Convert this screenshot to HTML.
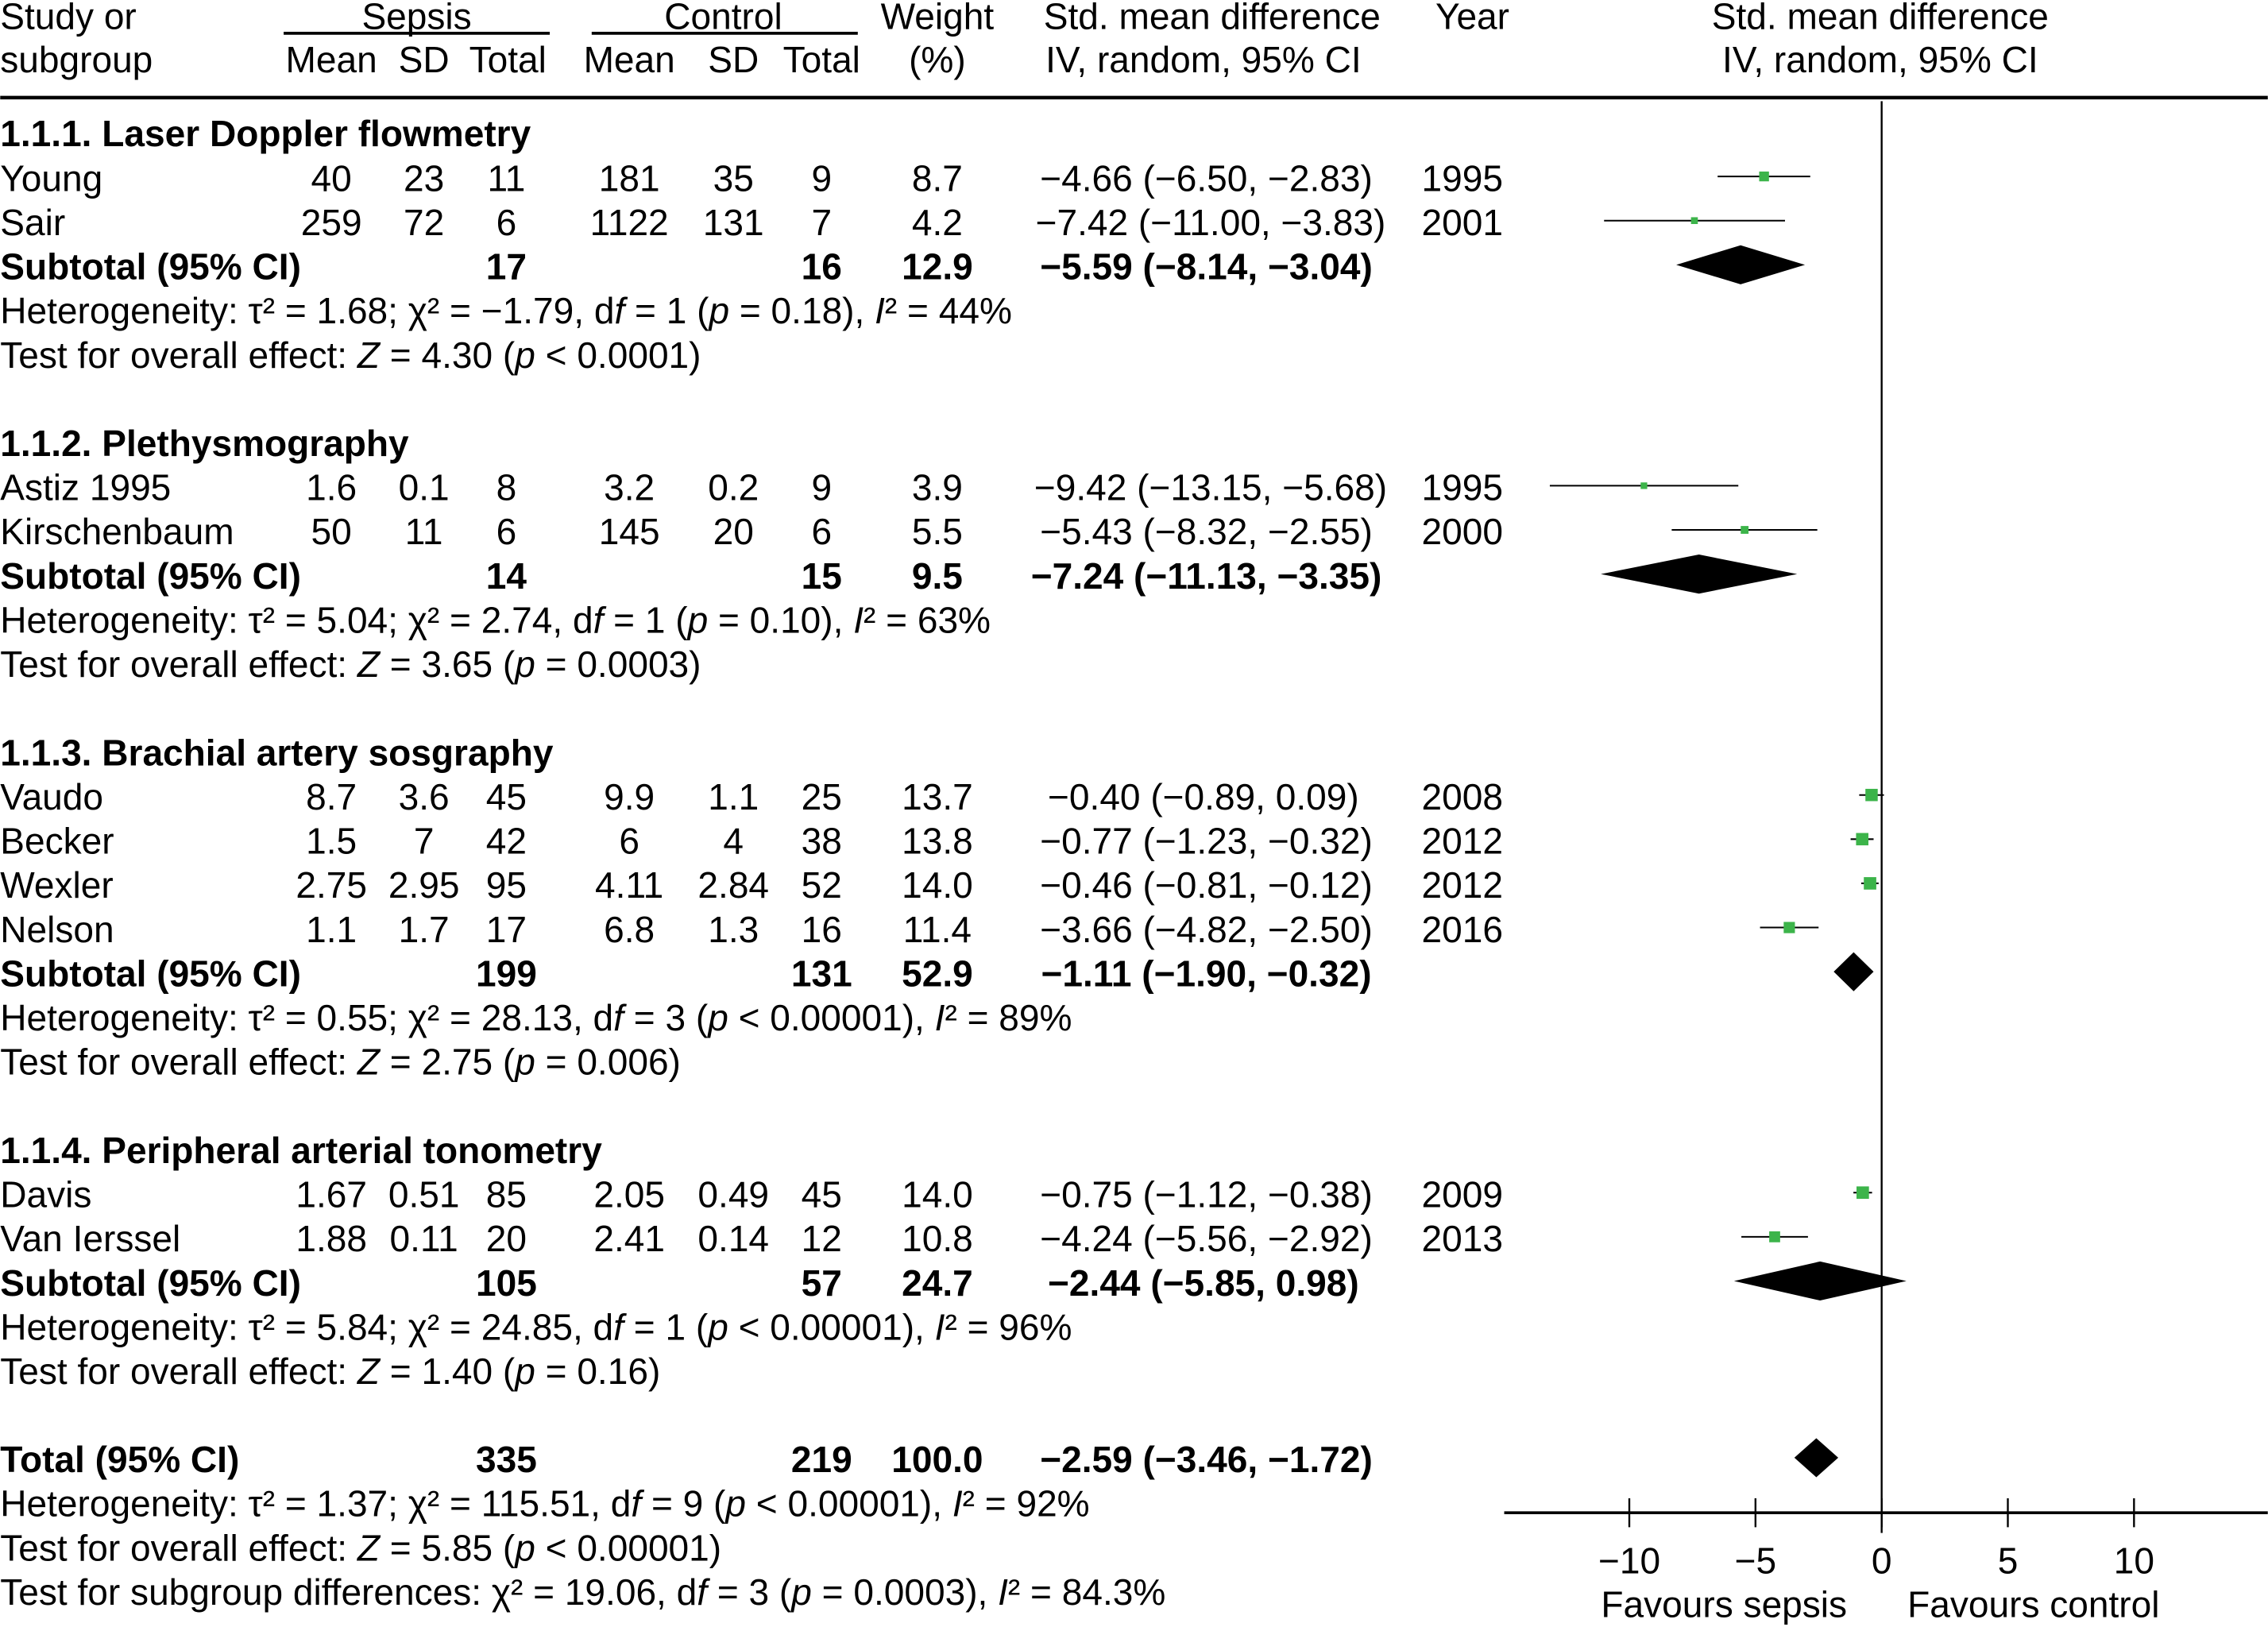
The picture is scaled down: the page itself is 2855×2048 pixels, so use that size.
<!DOCTYPE html>
<html><head><meta charset="utf-8"><style>
html,body{margin:0;padding:0;background:#fff}
svg{display:block}
text{font-family:"Liberation Sans",sans-serif;font-size:25.3px;fill:#000}
.b{font-weight:bold}
.m{text-anchor:middle}
</style></head><body>
<svg id="plot" width="2855" height="2048" viewBox="0 0 1568 1125" xmlns="http://www.w3.org/2000/svg">
<g>
<text x="0" y="20">Study or</text><text x="0" y="50">subgroup</text>
<text class="m" x="288" y="20">Sepsis</text><line x1="196" y1="23" x2="380" y2="23" stroke="#000" stroke-width="2"/>
<text class="m" x="500" y="20">Control</text><line x1="409" y1="23" x2="593" y2="23" stroke="#000" stroke-width="2"/>
<text class="m" x="229" y="50">Mean</text><text class="m" x="293" y="50">SD</text><text class="m" x="351" y="50">Total</text>
<text class="m" x="435" y="50">Mean</text><text class="m" x="507" y="50">SD</text><text class="m" x="568" y="50">Total</text>
<text class="m" x="648" y="20">Weight</text><text class="m" x="648" y="50">(%)</text>
<text class="m" x="838" y="20">Std. mean difference</text><text class="m" x="832" y="50">IV, random, 95% CI</text>
<text class="m" x="1018" y="20">Year</text>
<text class="m" x="1300" y="20">Std. mean difference</text><text class="m" x="1300" y="50">IV, random, 95% CI</text>
<line x1="0" y1="67.5" x2="1568" y2="67.5" stroke="#000" stroke-width="2.5"/>
</g>
<g>
<text class="b" x="0" y="101">1.1.1. Laser Doppler flowmetry</text>
<text x="0" y="132">Young</text><text class="m" x="229" y="132">40</text><text class="m" x="293" y="132">23</text><text class="m" x="350" y="132">11</text><text class="m" x="435" y="132">181</text><text class="m" x="507" y="132">35</text><text class="m" x="568" y="132">9</text><text class="m" x="648" y="132">8.7</text><text class="m" x="834" y="132">−4.66 (−6.50, −2.83)</text><text class="m" x="1011" y="132">1995</text>
<text x="0" y="162.6">Sair</text><text class="m" x="229" y="162.6">259</text><text class="m" x="293" y="162.6">72</text><text class="m" x="350" y="162.6">6</text><text class="m" x="435" y="162.6">1122</text><text class="m" x="507" y="162.6">131</text><text class="m" x="568" y="162.6">7</text><text class="m" x="648" y="162.6">4.2</text><text class="m" x="837" y="162.6">−7.42 (−11.00, −3.83)</text><text class="m" x="1011" y="162.6">2001</text>
<text class="b" x="0" y="193">Subtotal (95% CI)</text><text class="b m" x="350" y="193">17</text><text class="b m" x="568" y="193">16</text><text class="b m" x="648" y="193">12.9</text><text class="b m" x="834" y="193">−5.59 (−8.14, −3.04)</text>
<text x="0" y="223.7">Heterogeneity: τ² = 1.68; χ² = −1.79, d<tspan font-style="italic">f</tspan> = 1 (<tspan font-style="italic">p</tspan> = 0.18), <tspan font-style="italic">I</tspan>² = 44%</text>
<text x="0" y="254.2">Test for overall effect: <tspan font-style="italic">Z</tspan> = 4.30 (<tspan font-style="italic">p</tspan> &lt; 0.0001)</text>

<text class="b" x="0" y="315.3">1.1.2. Plethysmography</text>
<text x="0" y="345.9">Astiz 1995</text><text class="m" x="229" y="345.9">1.6</text><text class="m" x="293" y="345.9">0.1</text><text class="m" x="350" y="345.9">8</text><text class="m" x="435" y="345.9">3.2</text><text class="m" x="507" y="345.9">0.2</text><text class="m" x="568" y="345.9">9</text><text class="m" x="648" y="345.9">3.9</text><text class="m" x="837" y="345.9">−9.42 (−13.15, −5.68)</text><text class="m" x="1011" y="345.9">1995</text>
<text x="0" y="376.4">Kirschenbaum</text><text class="m" x="229" y="376.4">50</text><text class="m" x="293" y="376.4">11</text><text class="m" x="350" y="376.4">6</text><text class="m" x="435" y="376.4">145</text><text class="m" x="507" y="376.4">20</text><text class="m" x="568" y="376.4">6</text><text class="m" x="648" y="376.4">5.5</text><text class="m" x="834" y="376.4">−5.43 (−8.32, −2.55)</text><text class="m" x="1011" y="376.4">2000</text>
<text class="b" x="0" y="407">Subtotal (95% CI)</text><text class="b m" x="350" y="407">14</text><text class="b m" x="568" y="407">15</text><text class="b m" x="648" y="407">9.5</text><text class="b m" x="834" y="407">−7.24 (−11.13, −3.35)</text>
<text x="0" y="437.5">Heterogeneity: τ² = 5.04; χ² = 2.74, d<tspan font-style="italic">f</tspan> = 1 (<tspan font-style="italic">p</tspan> = 0.10), <tspan font-style="italic">I</tspan>² = 63%</text>
<text x="0" y="468">Test for overall effect: <tspan font-style="italic">Z</tspan> = 3.65 (<tspan font-style="italic">p</tspan> = 0.0003)</text>

<text class="b" x="0" y="529.2">1.1.3. Brachial artery sosgraphy</text>
<text x="0" y="559.7">Vaudo</text><text class="m" x="229" y="559.7">8.7</text><text class="m" x="293" y="559.7">3.6</text><text class="m" x="350" y="559.7">45</text><text class="m" x="435" y="559.7">9.9</text><text class="m" x="507" y="559.7">1.1</text><text class="m" x="568" y="559.7">25</text><text class="m" x="648" y="559.7">13.7</text><text class="m" x="832" y="559.7">−0.40 (−0.89, 0.09)</text><text class="m" x="1011" y="559.7">2008</text>
<text x="0" y="590.3">Becker</text><text class="m" x="229" y="590.3">1.5</text><text class="m" x="293" y="590.3">7</text><text class="m" x="350" y="590.3">42</text><text class="m" x="435" y="590.3">6</text><text class="m" x="507" y="590.3">4</text><text class="m" x="568" y="590.3">38</text><text class="m" x="648" y="590.3">13.8</text><text class="m" x="834" y="590.3">−0.77 (−1.23, −0.32)</text><text class="m" x="1011" y="590.3">2012</text>
<text x="0" y="620.8">Wexler</text><text class="m" x="229" y="620.8">2.75</text><text class="m" x="293" y="620.8">2.95</text><text class="m" x="350" y="620.8">95</text><text class="m" x="435" y="620.8">4.11</text><text class="m" x="507" y="620.8">2.84</text><text class="m" x="568" y="620.8">52</text><text class="m" x="648" y="620.8">14.0</text><text class="m" x="834" y="620.8">−0.46 (−0.81, −0.12)</text><text class="m" x="1011" y="620.8">2012</text>
<text x="0" y="651.4">Nelson</text><text class="m" x="229" y="651.4">1.1</text><text class="m" x="293" y="651.4">1.7</text><text class="m" x="350" y="651.4">17</text><text class="m" x="435" y="651.4">6.8</text><text class="m" x="507" y="651.4">1.3</text><text class="m" x="568" y="651.4">16</text><text class="m" x="648" y="651.4">11.4</text><text class="m" x="834" y="651.4">−3.66 (−4.82, −2.50)</text><text class="m" x="1011" y="651.4">2016</text>
<text class="b" x="0" y="681.9">Subtotal (95% CI)</text><text class="b m" x="350" y="681.9">199</text><text class="b m" x="568" y="681.9">131</text><text class="b m" x="648" y="681.9">52.9</text><text class="b m" x="834" y="681.9">−1.11 (−1.90, −0.32)</text>
<text x="0" y="712.5">Heterogeneity: τ² = 0.55; χ² = 28.13, d<tspan font-style="italic">f</tspan> = 3 (<tspan font-style="italic">p</tspan> &lt; 0.00001), <tspan font-style="italic">I</tspan>² = 89%</text>
<text x="0" y="743">Test for overall effect: <tspan font-style="italic">Z</tspan> = 2.75 (<tspan font-style="italic">p</tspan> = 0.006)</text>

<text class="b" x="0" y="804.1">1.1.4. Peripheral arterial tonometry</text>
<text x="0" y="834.7">Davis</text><text class="m" x="229" y="834.7">1.67</text><text class="m" x="293" y="834.7">0.51</text><text class="m" x="350" y="834.7">85</text><text class="m" x="435" y="834.7">2.05</text><text class="m" x="507" y="834.7">0.49</text><text class="m" x="568" y="834.7">45</text><text class="m" x="648" y="834.7">14.0</text><text class="m" x="834" y="834.7">−0.75 (−1.12, −0.38)</text><text class="m" x="1011" y="834.7">2009</text>
<text x="0" y="865.2">Van Ierssel</text><text class="m" x="229" y="865.2">1.88</text><text class="m" x="293" y="865.2">0.11</text><text class="m" x="350" y="865.2">20</text><text class="m" x="435" y="865.2">2.41</text><text class="m" x="507" y="865.2">0.14</text><text class="m" x="568" y="865.2">12</text><text class="m" x="648" y="865.2">10.8</text><text class="m" x="834" y="865.2">−4.24 (−5.56, −2.92)</text><text class="m" x="1011" y="865.2">2013</text>
<text class="b" x="0" y="895.8">Subtotal (95% CI)</text><text class="b m" x="350" y="895.8">105</text><text class="b m" x="568" y="895.8">57</text><text class="b m" x="648" y="895.8">24.7</text><text class="b m" x="832" y="895.8">−2.44 (−5.85, 0.98)</text>
<text x="0" y="926.3">Heterogeneity: τ² = 5.84; χ² = 24.85, d<tspan font-style="italic">f</tspan> = 1 (<tspan font-style="italic">p</tspan> &lt; 0.00001), <tspan font-style="italic">I</tspan>² = 96%</text>
<text x="0" y="956.9">Test for overall effect: <tspan font-style="italic">Z</tspan> = 1.40 (<tspan font-style="italic">p</tspan> = 0.16)</text>

<text class="b" x="0" y="1018">Total (95% CI)</text><text class="b m" x="350" y="1018">335</text><text class="b m" x="568" y="1018">219</text><text class="b m" x="648" y="1018">100.0</text><text class="b m" x="834" y="1018">−2.59 (−3.46, −1.72)</text>
<text x="0" y="1048.5">Heterogeneity: τ² = 1.37; χ² = 115.51, d<tspan font-style="italic">f</tspan> = 9 (<tspan font-style="italic">p</tspan> &lt; 0.00001), <tspan font-style="italic">I</tspan>² = 92%</text>
<text x="0" y="1079">Test for overall effect: <tspan font-style="italic">Z</tspan> = 5.85 (<tspan font-style="italic">p</tspan> &lt; 0.00001)</text>
<text x="0" y="1109.6">Test for subgroup differences: χ² = 19.06, d<tspan font-style="italic">f</tspan> = 3 (<tspan font-style="italic">p</tspan> = 0.0003), <tspan font-style="italic">I</tspan>² = 84.3%</text>
</g>
<g id="marks"></g>
<g>
<text class="m" x="1192" y="1118">Favours sepsis</text>
<text class="m" x="1406" y="1118">Favours control</text>
</g>
</svg>
<script>
const studyRows = [0, 1, 7, 8, 14, 15, 16, 17, 23, 24];
const studyEst = [-4.66, -7.42, -9.42, -5.43, -0.40, -0.77, -0.46, -3.66, -0.75, -4.24];
const studyLo = [-6.50, -11.00, -13.15, -8.32, -0.89, -1.23, -0.81, -4.82, -1.12, -5.56];
const studyHi = [-2.83, -3.83, -5.68, -2.55, 0.09, -0.32, -0.12, -2.50, -0.38, -2.92];
const studyWeight = [8.7, 4.2, 3.9, 5.5, 13.7, 13.8, 14.0, 11.4, 14.0, 10.8];
const poolRows = [2, 9, 18, 25, 29];
const poolEst = [-5.59, -7.24, -1.11, -2.44, -2.59];
const poolLo = [-8.14, -11.13, -1.90, -5.85, -3.46];
const poolHi = [-3.04, -3.35, -0.32, 0.98, -1.72];
const ticks = [-10, -5, 0, 5, 10];
const tickLabels = ["−10", "−5", "0", "5", "10"];

const NS = "http://www.w3.org/2000/svg";
const g = document.getElementById('marks');
function xs(v){ return 1301 + 17.45 * v; }
function ys(r){ return 124 + 30.55 * r; }
function mk(tag, attrs){ const e = document.createElementNS(NS, tag); for (const k in attrs) e.setAttribute(k, attrs[k]); g.appendChild(e); return e; }

let e = mk('line', {x1: xs(0), y1: 70, x2: xs(0), y2: 1060, stroke: '#000', 'stroke-width': 1.3});


e = mk('line', {x1: 1040, y1: 1046, x2: 1568, y2: 1046, stroke: '#000', 'stroke-width': 2});


ticks.forEach((t, i) => {
  const tl = mk('line', {x1: xs(t), y1: 1036, x2: xs(t), y2: 1056, stroke: '#000', 'stroke-width': 1.3});
  
  
  const tx = mk('text', {x: xs(t), y: 1088, 'text-anchor': 'middle'});
  tx.textContent = tickLabels[i];
  
  
});
studyEst.forEach((v, i) => {
  const y = ys(studyRows[i]) - 2;
  const l = mk('line', {x1: xs(studyLo[i]), y1: y, x2: xs(studyHi[i]), y2: y, stroke: '#000', 'stroke-width': 1.1});
  
  
  const s = Math.sqrt(studyWeight[i]) * 2.3;
  const r = mk('rect', {x: xs(v) - s / 2, y: y - s / 2, width: s, height: s, fill: '#3cb44a'});
  
  
});
poolEst.forEach((v, i) => {
  const y = ys(poolRows[i]) - 2;
  const h = 13.5;
  const p = mk('polygon', {points: `${xs(poolLo[i])},${y} ${xs(v)},${y - h} ${xs(poolHi[i])},${y} ${xs(v)},${y + h}`, fill: '#000'});
  
  
});
</script>
</body></html>
